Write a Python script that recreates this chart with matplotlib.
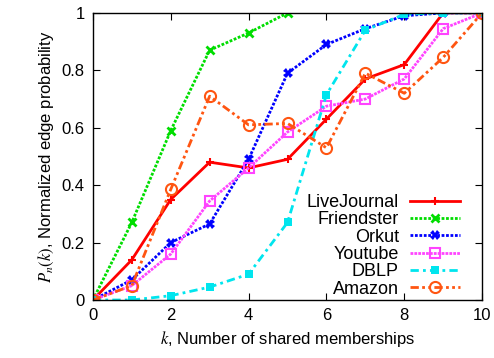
import numpy as np
import matplotlib
matplotlib.use("Agg")
import matplotlib.pyplot as plt

plt.rcParams['font.family'] = ['Liberation Sans', 'DejaVu Sans']
plt.rcParams['mathtext.fontset'] = 'stix'

# values
k = [0, 1, 2, 3, 4, 5, 6, 7, 8, 9, 10]
livejournal = [0, 0.14, 0.35, 0.48, 0.46, 0.49, 0.63, 0.77, 0.82, 1.0, 1.0]
friendster_k = [0, 1, 2, 3, 4, 5]
friendster = [0, 0.27, 0.59, 0.87, 0.93, 1.0]
orkut = [0, 0.07, 0.20, 0.265, 0.49, 0.79, 0.89, 0.945, 0.99, 1.0, 1.0]
youtube = [0, 0.05, 0.16, 0.345, 0.46, 0.585, 0.675, 0.70, 0.77, 0.945, 1.0]
dblp = [0, 0.0, 0.015, 0.045, 0.09, 0.27, 0.715, 0.94, 0.995, 1.0, 1.0]
amazon = [0, 0.05, 0.385, 0.71, 0.61, 0.615, 0.53, 0.79, 0.72, 0.845, 1.0]

fig = plt.figure(figsize=(4.94, 3.58), dpi=100)
ax = fig.add_axes([0.188, 0.162, 0.788, 0.802])

ax.plot(k, livejournal, color='#ff0000', lw=2, ls='-', marker='+', ms=6, mew=1.5,
        label='LiveJournal')
ax.plot(friendster_k, friendster, color='#00dd00', lw=2, ls=(0, (1, 0.6)), marker='x',
        ms=6, mew=2, label='Friendster')
ax.plot(k, orkut, color='#0000ff', lw=2, ls=(0, (1, 0.6)), marker='X', ms=7, mew=0,
        label='Orkut')
ax.plot(k, youtube, color='#ff44ff', lw=2, ls=(0, (1, 0.4)), marker='s', ms=7,
        mfc='none', mew=1.5, label='Youtube')
ax.plot(k, dblp, color='#00e5ee', lw=2, ls=(0, (3, 1.5, 1, 1.5)), marker='s', ms=6,
        mew=0, label='DBLP')
ax.plot(k, amazon, color='#ff5511', lw=2, ls=(0, (3, 1.2, 1, 1.2, 1, 1.2)), marker='o',
        ms=8, mfc='none', mew=1.5, label='Amazon')

ax.set_xlim(0, 10)
ax.set_ylim(0, 1)
ax.set_xticks([0, 2, 4, 6, 8, 10])
ax.set_yticks([0, 0.2, 0.4, 0.6, 0.8, 1.0])
ax.set_yticklabels(['0', '0.2', '0.4', '0.6', '0.8', '1'])
ax.tick_params(direction='in', top=True, right=True, labelsize=12, length=5, pad=6)
for s in ax.spines.values():
    s.set_linewidth(1.0)

ax.set_xlabel(r'$k$, Number of shared memberships', fontsize=12)
ax.set_ylabel(r'$P_n(k)$, Normalized edge probability', fontsize=12)

ax.legend(loc='lower right', bbox_to_anchor=(0.95, 0.143),
          bbox_transform=fig.transFigure, frameon=False, markerfirst=False,
          fontsize=13, handlelength=2.8, labelspacing=0.02, borderpad=0,
          handletextpad=0.6)

fig.savefig('out.png', dpi=100)
